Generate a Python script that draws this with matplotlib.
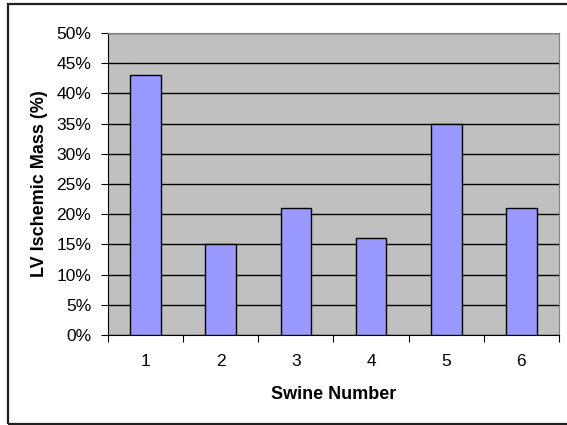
import matplotlib.pyplot as plt
from matplotlib.patches import Rectangle

# data
swine = ["1", "2", "3", "4", "5", "6"]
ischemic_mass = [43, 15, 21, 16, 35, 21]
yticks = [0, 5, 10, 15, 20, 25, 30, 35, 40, 45, 50]

plt.rcParams['font.family'] = ['Liberation Sans', 'DejaVu Sans']

fig = plt.figure(figsize=(5.67, 4.25), dpi=100)
ax = fig.add_axes([108/567, 90/425, 451/567, 302/425])

# outer chart frame
fig.patches.append(Rectangle((8/567, 1/425), 1.2, 420/425, transform=fig.transFigure,
                             fill=False, edgecolor='#202020', linewidth=1.6))

ax.set_facecolor('#C0C0C0')
x = range(len(swine))
ax.bar(x, ischemic_mass, width=0.41, color='#9999FF', edgecolor='black', linewidth=1, zorder=3)

ax.set_xlim(-0.5, len(swine) - 0.5)
ax.set_ylim(0, 50)
ax.set_yticks(yticks)
ax.set_yticklabels([f"{v}%" for v in yticks], fontsize=12.5)
ax.yaxis.grid(True, color='black', linewidth=1, zorder=1)
ax.set_axisbelow(True)

ax.set_xticks([i - 0.5 for i in range(len(swine) + 1)])
ax.set_xticklabels([])
ax.set_xticks(list(x), minor=True)
ax.set_xticklabels(swine, minor=True, fontsize=12.5)
ax.tick_params(axis='x', which='minor', length=0, pad=14)
ax.tick_params(axis='x', which='major', length=5, direction='out')
ax.tick_params(axis='y', length=5, direction='out', pad=7)

for s in ['top', 'right']:
    ax.spines[s].set_color('#808080')
ax.spines['left'].set_color('black')
ax.spines['bottom'].set_color('black')

ax.set_xlabel("Swine Number", fontsize=13, fontweight='bold', labelpad=12)
ax.set_ylabel("LV Ischemic Mass (%)", fontsize=13, fontweight='bold', labelpad=6)

fig.savefig("out.png", dpi=100)
